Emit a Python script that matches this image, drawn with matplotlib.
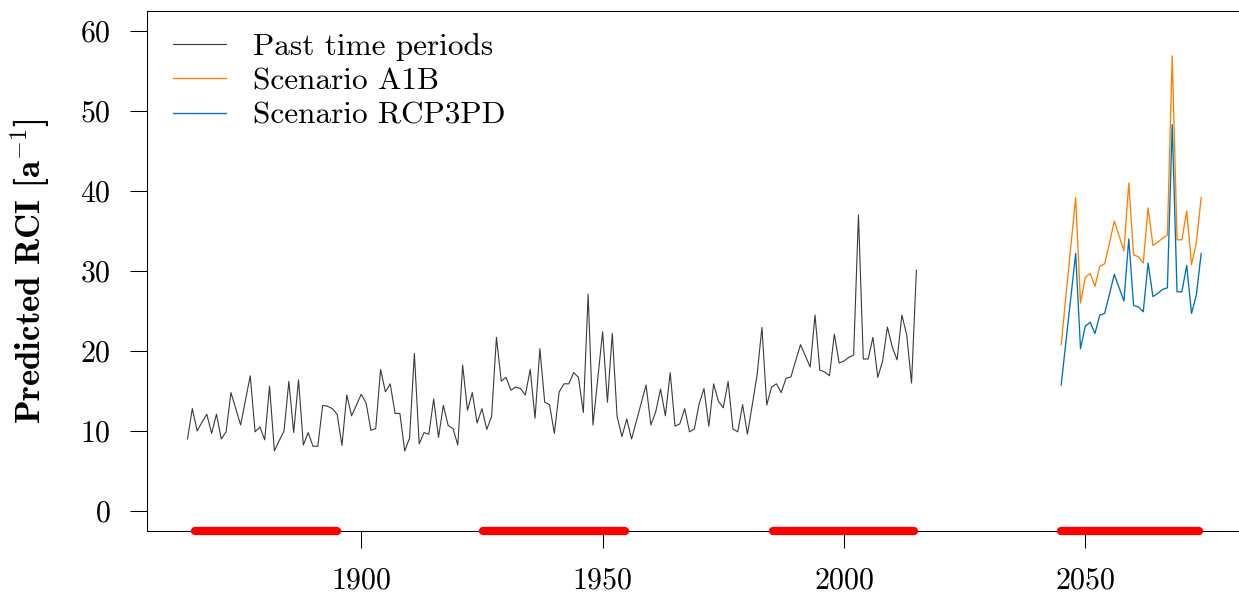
import matplotlib
matplotlib.use("Agg")
import matplotlib.pyplot as plt
import numpy as np

plt.rcParams['font.family'] = ['cmr10', 'DejaVu Serif']
plt.rcParams['mathtext.fontset'] = 'cm'
plt.rcParams['axes.unicode_minus'] = False
plt.rcParams['axes.formatter.use_mathtext'] = True

# Past time periods (yearly predicted RCI)
past_years = np.arange(1864, 2016)
past_rci = [
    9.0, 12.8, 10.0, 11.1, 12.1, 9.7, 12.1, 9.0, 9.9, 14.8,
    12.8, 10.75, 13.8, 16.9, 9.9, 10.5, 8.9, 15.6, 7.5, 8.8,
    10.0, 16.2, 9.8, 16.4, 8.25, 9.8, 8.1, 8.1, 13.2, 13.1,
    12.8, 12.1, 8.2, 14.5, 11.9, 13.25, 14.6, 13.5, 10.1, 10.3,
    17.7, 14.9, 15.9, 12.2, 12.2, 7.5, 9.1, 19.7, 8.4, 9.8,
    9.6, 14.0, 9.2, 13.2, 10.7, 10.3, 8.25, 18.25, 12.6, 14.8,
    11.0, 12.8, 10.2, 11.8, 21.7, 16.25, 16.7, 15.1, 15.5, 15.3,
    14.5, 17.7, 11.6, 20.3, 13.6, 13.3, 9.7, 14.9, 15.9, 15.9,
    17.3, 16.7, 12.3, 27.1, 10.75, 16.6, 22.4, 13.6, 22.2, 11.8,
    9.3, 11.5, 9.0, 11.25, 13.5, 15.75, 10.75, 12.4, 15.25, 11.9,
    17.3, 10.6, 10.9, 12.8, 9.9, 10.25, 13.4, 15.3, 10.6, 15.9,
    13.7, 12.9, 16.2, 10.25, 9.9, 13.3, 9.6, 13.25, 17.0, 22.95,
    13.25, 15.5, 15.9, 14.8, 16.6, 16.75, 18.8, 20.8, 19.4, 18.0,
    24.5, 17.6, 17.4, 16.9, 22.1, 18.5, 18.75, 19.2, 19.5, 37.0,
    19.0, 19.0, 21.7, 16.7, 18.75, 23.0, 20.5, 18.9, 24.5, 22.0,
    16.0, 30.1,
]

# Future scenarios
future_years = np.arange(2045, 2075)
a1b_rci = [
    20.8, 27.0, 33.1, 39.2, 26.0, 29.2, 29.7, 28.1, 30.6, 30.9,
    33.5, 36.25, 34.4, 32.5, 41.0, 32.0, 31.8, 31.0, 37.9, 33.2,
    33.6, 34.1, 34.5, 56.9, 33.9, 33.9, 37.5, 30.8, 33.5, 39.2,
]
rcp3pd_rci = [
    15.75, 21.25, 26.7, 32.2, 20.3, 23.1, 23.6, 22.2, 24.5, 24.7,
    27.1, 29.6, 27.9, 26.25, 34.0, 25.7, 25.5, 24.9, 31.0, 26.8,
    27.2, 27.7, 27.9, 48.3, 27.4, 27.4, 30.7, 24.7, 27.0, 32.2,
]

# 30-year reference periods marked in red
period_starts = [1865.5, 1925.3, 1985.2, 2045]
period_ends = [1895, 1954.7, 2014.6, 2073.6]

fig = plt.figure(figsize=(12.39, 5.99), dpi=100)
ax = fig.add_axes([0.1186, 0.1135, 0.8836, 0.8681])

ax.plot(past_years, past_rci, color='#3a3a3a', lw=0.8, label='Past time periods')
ax.plot(future_years, a1b_rci, color='#ff8000', lw=0.95, label='Scenario A1B')
ax.plot(future_years, rcp3pd_rci, color='#0072b2', lw=0.95, label='Scenario RCP3PD')

for s, e in zip(period_starts, period_ends):
    ax.plot([s, e], [-2.5, -2.5], color='red', lw=6, solid_capstyle='round',
            clip_on=False, zorder=5)

ax.set_xlim(1855.6, 2082.4)
ax.set_ylim(-2.5, 62.5)
ax.set_xticks([1900, 1950, 2000, 2050])
ax.set_yticks([0, 10, 20, 30, 40, 50, 60])
ax.tick_params(axis='both', direction='out', length=12, width=0.75,
               labelsize=21.5, pad=14)
for sp in ax.spines.values():
    sp.set_linewidth(0.75)

ax.set_ylabel('Predicted RCI [a$^{-1}$]', fontsize=25, family='cmb10', labelpad=20)

ax.legend(loc='upper left', bbox_to_anchor=(0.007, 0.994), frameon=False,
          fontsize=22.5, handlelength=1.7, handletextpad=0.84, labelspacing=0.21,
          borderaxespad=0.2)

fig.savefig('out.png', dpi=100)
